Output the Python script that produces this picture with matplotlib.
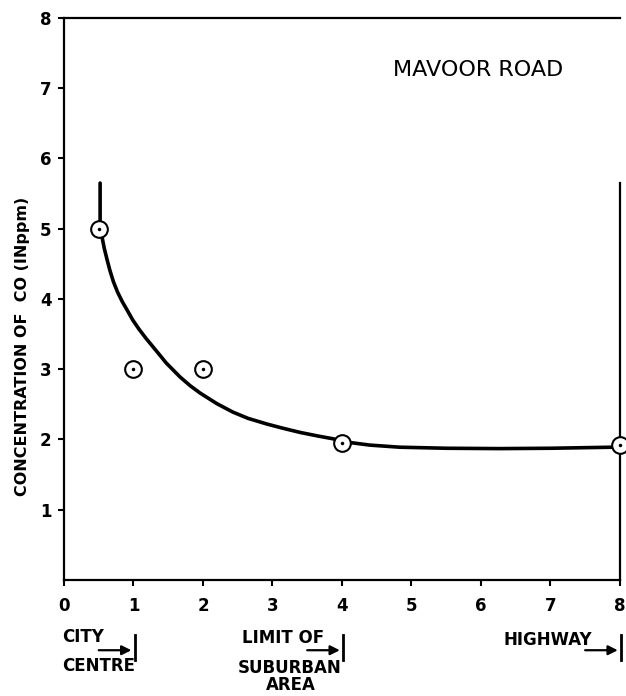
import numpy as np
import matplotlib
matplotlib.use("Agg")
import matplotlib.pyplot as plt

# measured CO concentration along the road
dist_km = [0.5, 1.0, 2.0, 4.0, 8.0]
co_ppm = [5.0, 3.0, 3.0, 1.95, 1.92]

# hand-drawn trend curve
curve_x = [0.52, 0.52, 0.52, 0.53, 0.55, 0.58, 0.62, 0.66, 0.71, 0.77, 0.84, 0.91,
           0.99, 1.08, 1.18, 1.28, 1.38, 1.47, 1.57, 1.67, 1.81, 1.96, 2.20,
           2.43, 2.65, 2.92, 3.15, 3.40, 3.65, 3.87, 4.01, 4.40, 4.83, 5.50,
           6.27, 7.00, 7.90]
curve_y = [5.65, 5.30, 5.01, 4.95, 4.87, 4.72, 4.56, 4.41, 4.25, 4.10, 3.96, 3.84,
           3.70, 3.57, 3.44, 3.32, 3.20, 3.09, 2.99, 2.89, 2.77, 2.66, 2.51,
           2.39, 2.30, 2.22, 2.16, 2.10, 2.05, 2.01, 1.97, 1.92, 1.89, 1.875,
           1.87, 1.875, 1.89]

x_ticks = [0, 1, 2, 3, 4, 5, 6, 7, 8]
y_ticks = [1, 2, 3, 4, 5, 6, 7, 8]

# zone markers under the distance axis
zone_at = [1, 4, 8]
zone_lines = [["CITY", "CENTRE"], ["LIMIT OF", "SUBURBAN", "AREA"], ["HIGHWAY"]]

fig = plt.figure(figsize=(6.26, 6.96), dpi=100)
ax = fig.add_axes([0.1022, 0.1667, 0.888, 0.8075])
ax.set_xlim(0, 8)
ax.set_ylim(0, 8)

for s in ["left", "bottom", "top"]:
    ax.spines[s].set_linewidth(1.6)
ax.spines["right"].set_visible(False)
# right edge is only drawn over the lower part
ax.plot([1, 1], [0, 5.65 / 8], transform=ax.transAxes, color="black",
        lw=1.6, clip_on=False)

ax.set_xticks(x_ticks)
ax.set_yticks(y_ticks)
ax.tick_params(direction="out", length=4, width=1.5, labelsize=12, pad=5)
ax.tick_params(axis="x", pad=8)
for lab in ax.get_xticklabels() + ax.get_yticklabels():
    lab.set_fontweight("bold")

ax.plot(curve_x, curve_y, color="black", lw=2.6, solid_capstyle="round",
        solid_joinstyle="round", zorder=2)
ax.plot(dist_km, co_ppm, "o", ms=12, mfc="white", mec="black", mew=1.5,
        clip_on=False, zorder=3)
ax.plot(dist_km, co_ppm, ".", ms=3, color="black", clip_on=False, zorder=4)

ax.text(4.73, 7.26, "MAVOOR ROAD", fontsize=16, va="center", ha="left")

ax.text(-0.075, 3.33 / 8, "CONCENTRATION OF  CO (INppm)", transform=ax.transAxes,
        rotation=90, ha="center", va="center", fontsize=11.5, fontweight="bold")

txt = dict(fontsize=12, fontweight="bold", va="center", clip_on=False)
ax.text(-0.03, -0.81, zone_lines[0][0], ha="left", **txt)
ax.text(-0.03, -1.22, zone_lines[0][1], ha="left", **txt)
ax.text(2.56, -0.83, zone_lines[1][0], ha="left", **txt)
ax.text(2.50, -1.25, zone_lines[1][1], ha="left", **txt)
ax.text(3.27, -1.50, zone_lines[1][2], ha="center", **txt)
ax.text(6.33, -0.85, zone_lines[2][0], ha="left", **txt)

for xz in zone_at:
    ax.annotate("", xy=(xz - 0.03, -1.0), xytext=(xz - 0.5, -1.0),
                annotation_clip=False,
                arrowprops=dict(arrowstyle="-|>", color="black", lw=1.6,
                                mutation_scale=14, shrinkA=0, shrinkB=0))
    ax.plot([xz + 0.02, xz + 0.02], [-0.78, -1.14], color="black", lw=2,
            clip_on=False)

fig.savefig("out.png", dpi=100)
